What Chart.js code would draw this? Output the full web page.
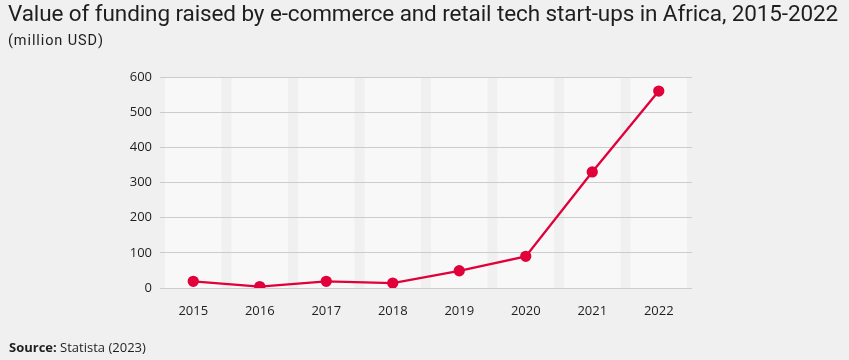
<!DOCTYPE html>
<html><head><meta charset="utf-8">
<script src="https://cdn.jsdelivr.net/npm/chart.js@4.4.1/dist/chart.umd.min.js"></script>
<style>
html,body{margin:0;padding:0;background:#f0f0f0;width:849px;height:360px;overflow:hidden;font-family:"Open Sans",sans-serif;color:#1e1e1e}
#title{position:absolute;left:8px;top:0px;font-size:22.5px;white-space:nowrap;font-family:"Roboto",sans-serif;letter-spacing:-0.1px}
#sub{position:absolute;left:8px;top:32px;font-size:14.5px;font-family:"Roboto",sans-serif;letter-spacing:0.9px}
#src{position:absolute;left:9px;top:338px;font-size:13px;font-family:"Open Sans",sans-serif}
#wrap{position:absolute;left:0;top:0;width:849px;height:360px}
</style></head>
<body>
<div id="wrap"><canvas id="c" width="849" height="360"></canvas></div>
<div id="title">Value of funding raised by e-commerce and retail tech start-ups in Africa, 2015-2022</div>
<div id="sub">(million USD)</div>
<div id="src"><b>Source:</b> Statista (2023)</div>
<script>
const categories = ["2015","2016","2017","2018","2019","2020","2021","2022"];
const funding = [19, 4, 19, 14, 49, 90, 330, 560];
const yTicks = [0, 100, 200, 300, 400, 500, 600];

const bandPlugin = {
  id: 'bands',
  beforeDraw(chart) {
    const {ctx, scales} = chart;
    const x = scales.x, y = scales.y;
    const step = x.width / categories.length;
    const bw = step - 10;
    ctx.save();
    ctx.fillStyle = '#f8f8f8';
    categories.forEach((c, i) => {
      const cx = x.getPixelForValue(i);
      ctx.fillRect(cx - bw / 2, y.getPixelForValue(600), bw, y.getPixelForValue(0) - y.getPixelForValue(600));
    });
    ctx.restore();
  }
};

new Chart(document.getElementById('c'), {
  type: 'line',
  data: {
    labels: categories,
    datasets: [{
      data: funding,
      borderColor: '#e2003b',
      backgroundColor: '#e2003b',
      borderWidth: 2.3,
      pointRadius: 4.5,
      pointHoverRadius: 4.5,
      tension: 0
    }]
  },
  plugins: [bandPlugin],
  options: {
    responsive: false,
    animation: false,
    devicePixelRatio: 1,
    layout: {padding: {top: 77, right: 157, bottom: 0, left: 0}},
    plugins: {legend: {display: false}, tooltip: {enabled: false}},
    scales: {
      x: {
        offset: true,
        grid: {display: false, drawTicks: false},
        border: {display: false},
        ticks: {color: '#1e1e1e', font: {family: 'Open Sans', size: 13}, padding: 15},
        afterFit(s) { s.height = 72; }
      },
      y: {
        min: 0, max: 600,
        afterBuildTicks(s) { s.ticks = yTicks.map(v => ({value: v})); },
        grid: {color: '#cccccc', lineWidth: 1, drawTicks: false},
        border: {display: false},
        ticks: {color: '#1e1e1e', font: {family: 'Open Sans', size: 13}, padding: 8},
        afterFit(s) { s.width = 160; }
      }
    }
  }
});
</script>
</body></html>
